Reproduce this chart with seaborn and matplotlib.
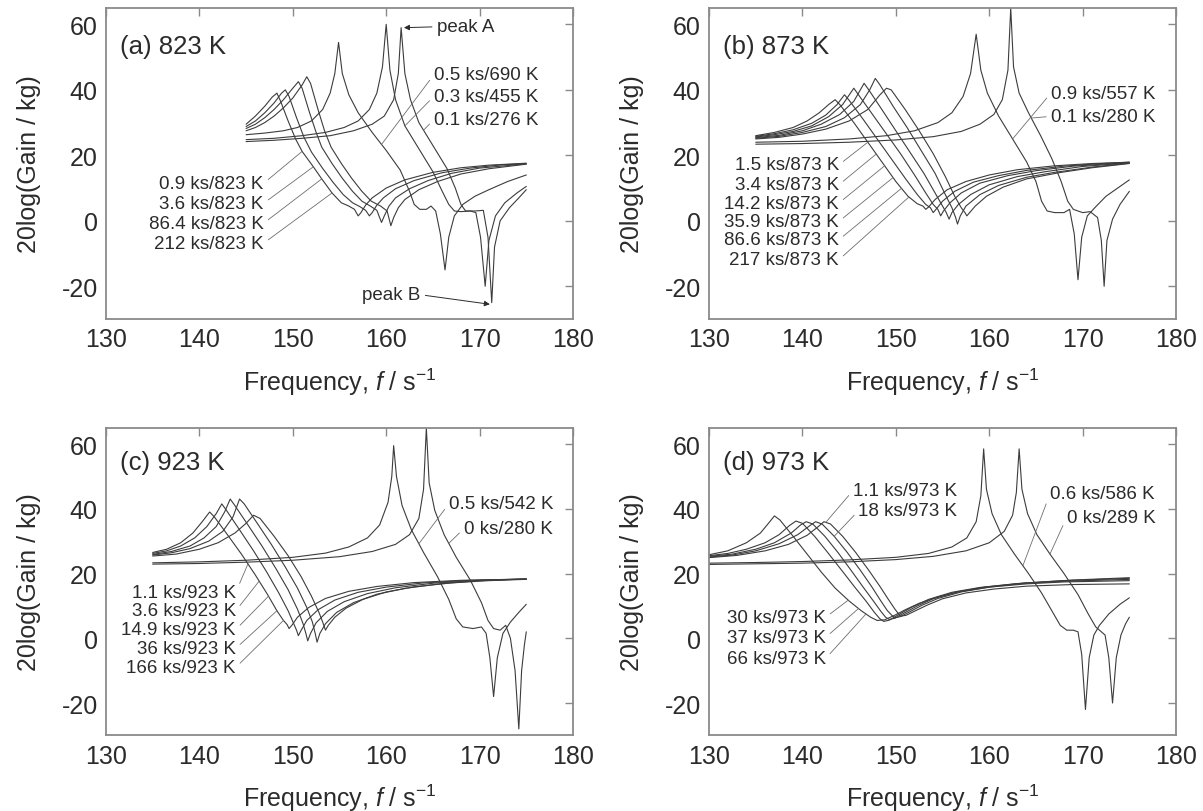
"""Gain spectra of the vibrating beam after ageing at 823, 873, 923 and 973 K."""
import numpy as np
import matplotlib
matplotlib.use("Agg")
import matplotlib.pyplot as plt
import seaborn as sns

# ---- data: (frequency f / s^-1, 20log(Gain/kg)) ----
# (a) 823 K, aged curves
A_09KS = [(145, 29.5), (146, 32), (147, 35), (147.8, 37.8), (148.3, 39), (148.7, 36.5), (149.5, 30.5),
          (150.3, 25), (151, 21.2), (152.2, 16.5), (153.1, 12.8), (154.2, 8.5), (155.2, 5.5), (156, 4.5),
          (156.6, 3.5), (157.0, 1.5), (157.3, 2.5), (157.8, 4.8), (158.5, 7), (160, 10), (162, 12.5),
          (165, 14.8), (168, 16.2), (171, 17), (175, 17.6)]
A_36KS = [(145, 28.8), (146, 30.5), (147, 33), (148, 36), (148.8, 39), (149.2, 40), (149.6, 38),
          (150.4, 31.5), (151.2, 25.5), (152, 21), (153.2, 16), (154.3, 11.8), (155.4, 8), (156.4, 5.5),
          (157.2, 4.3), (157.8, 3.2), (158.2, 1.5), (158.5, 2.5), (159, 4.8), (159.7, 7), (161, 9.8),
          (163, 12.3), (166, 14.7), (169, 16.1), (172, 17), (175, 17.5)]
A_864KS = [(145, 28.2), (146, 29.5), (147, 31.5), (148, 34), (149, 37), (150, 40.5), (150.6, 42.5),
           (151, 40.5), (151.8, 33), (152.5, 27), (153.1, 22.5), (154.2, 17.5), (155.3, 13), (156.4, 9),
           (157.4, 6), (158.3, 4.5), (159, 3.2), (159.5, -0.5), (159.8, 1.5), (160.3, 4.5), (161, 7),
           (162.5, 9.8), (164.5, 12.3), (167, 14.5), (170, 16.1), (175, 17.4)]
A_212KS = [(145, 27.5), (146, 28.5), (147, 30), (148, 32), (149, 34.5), (150, 37.5), (151, 41.5),
           (151.5, 44), (151.9, 42), (152.7, 34), (153.4, 27.5), (154.1, 22.5), (155.2, 17.5), (156.3, 13),
           (157.4, 9), (158.4, 6), (159.4, 4.5), (160.1, 3), (160.5, -1.5), (160.8, 1), (161.3, 4),
           (162, 6.5), (163.5, 9.5), (165.5, 12), (168, 14.3), (171, 15.9), (175, 17.3)]
# (a) 823 K, short heat treatments
A_05KS = [(145, 26.3), (147, 26.8), (149, 27.5), (150.5, 28.5), (152, 30.5), (153.2, 34), (154, 39),
          (154.5, 45), (154.9, 54.5), (155.3, 45), (156, 38.5), (157, 33), (158.5, 27), (160, 21.5),
          (161.5, 15.5), (162.5, 9), (163, 5), (163.6, 3.5), (164.3, 3.5), (164.8, 4.5), (165.3, 3),
          (165.8, -4), (166.3, -15), (166.7, -5), (167.3, 1.5), (168.2, 5), (169.5, 7.5), (171, 9.5),
          (173, 12), (175, 14)]
A_03KS = [(145, 24.8), (148, 25.2), (151, 26), (153.5, 27), (155.5, 28.5), (157, 30.5), (158.2, 34),
          (159, 39), (159.6, 47), (160.0, 60), (160.4, 46), (161, 37), (162, 29), (163.5, 22), (165, 15),
          (166, 9), (166.7, 5), (167.3, 3), (168, 2.8), (169, 3), (169.6, 2.5), (170.1, -5), (170.6, -20),
          (171, -6), (171.7, 1.5), (172.7, 5.5), (174, 8.5), (175, 10.5)]
A_01KS = [(145, 24.2), (148, 24.6), (151, 25.2), (154, 26), (156.5, 27.5), (158.5, 29.5), (159.8, 32),
          (160.8, 37), (161.3, 45), (161.6, 59), (162, 45), (162.6, 37), (163.5, 30), (165, 23),
          (166.5, 16), (167.4, 10), (168, 5), (168.5, 3), (169.5, 3), (170.4, 3.2), (170.9, -5),
          (171.3, -25), (171.6, -8), (172.2, 0), (173.2, 4), (174.2, 7), (175, 9.5)]

# (b) 873 K
B_15KS = [(135, 26), (137, 27), (139, 28.5), (140.5, 30.5), (141.8, 33), (142.8, 35.5), (143.5, 37),
          (144, 35.5), (145.5, 30), (147, 24), (148.5, 18), (150, 12), (151.3, 7.5), (152.3, 5.2),
          (152.9, 4.5), (153.2, 3.5), (153.5, 4.2), (154.2, 6.5), (155.5, 9.5), (157.5, 12), (160, 14),
          (163, 15.6), (167, 16.8), (171, 17.5), (175, 17.9)]
B_34KS = [(135, 25.8), (137, 26.6), (139, 27.8), (141, 29.8), (142.5, 32.3), (143.7, 35.5), (144.5, 38.5),
          (145, 36.8), (146.5, 31), (148, 25), (149.5, 19), (151, 13), (152.3, 8), (153.2, 5), (153.7, 4),
          (154.0, 2.5), (154.3, 3.5), (155, 6), (156.3, 9), (158.3, 11.8), (161, 13.8), (164, 15.4),
          (168, 16.7), (171.5, 17.4), (175, 17.9)]
B_142KS = [(135, 25.6), (137, 26.3), (139, 27.3), (141, 29), (142.8, 31.8), (144.3, 35.5), (145.5, 40.5),
           (146, 38.5), (147.5, 32.5), (149, 26.5), (150.5, 20.5), (152, 14), (153.2, 8.5), (154, 5),
           (154.5, 3.5), (154.8, 1.5), (155.1, 3), (155.8, 5.5), (157, 8.5), (159, 11.5), (162, 13.8),
           (165, 15.3), (169, 16.7), (175, 17.8)]
B_359KS = [(135, 25.4), (137.5, 26.1), (140, 27.5), (142, 29.5), (144, 32.5), (145.5, 36.5), (146.6, 42),
           (147.1, 40), (148.5, 34), (150, 27.5), (151.5, 21), (153, 14.5), (154.2, 8.5), (155, 4.5),
           (155.4, 2.5), (155.7, 0.5), (156, 2.5), (156.7, 5), (158, 8), (160, 11), (163, 13.5),
           (166, 15), (170, 16.6), (175, 17.7)]
B_866KS = [(135, 25.2), (137.5, 25.8), (140, 27), (142.5, 28.8), (144.5, 31.5), (146.2, 35.5), (147.2, 40),
           (147.8, 43.5), (148.3, 41.5), (149.7, 35), (151.2, 28.5), (152.7, 21.5), (154.2, 14.5),
           (155.3, 8), (156, 4), (156.4, 1), (156.6, -1), (156.9, 1.5), (157.5, 4.5), (159, 8),
           (161, 10.8), (164, 13.3), (167, 14.8), (171, 16.4), (175, 17.6)]
B_217KS = [(135, 25), (137.5, 25.5), (140, 26.5), (142.5, 28), (145, 30.5), (147, 34), (148.3, 38.5),
           (149.0, 40.5), (149.5, 40), (151, 34), (152.5, 27.5), (154, 20.5), (155.3, 13.5), (156.3, 7.5),
           (157, 4), (157.4, 2.5), (157.6, 1.5), (157.9, 2.5), (158.5, 4.5), (159.7, 7.5), (161.5, 10.3),
           (164, 12.8), (167.5, 14.7), (171, 16.2), (175, 17.5)]
B_09KS = [(135, 24), (140, 24.3), (145, 25), (149, 26), (152, 27.5), (154.5, 30), (156, 33), (157.2, 38),
          (158, 45), (158.6, 57), (159.1, 46), (159.8, 39), (161, 32), (162.5, 25), (164, 18), (165, 12),
          (165.6, 6), (166.2, 3), (167, 2.5), (168, 2.5), (168.6, 3.5), (169.1, -4), (169.5, -18),
          (169.9, -5), (170.5, 1.5), (171.3, 4), (172.5, 7.5), (174, 10.5), (175, 12.5)]
B_01KS = [(135, 23.4), (140, 23.6), (145, 24), (150, 24.7), (154, 25.7), (157, 27.3), (159, 29.5),
          (160.5, 32.5), (161.4, 37), (162, 46), (162.3, 65), (162.6, 47), (163.2, 39), (164.2, 33),
          (165.5, 26), (166.7, 19), (167.7, 12), (168.4, 6), (169, 3.5), (170, 2.5), (170.8, 2.8),
          (171.6, 1), (172, -6), (172.3, -20), (172.6, -6), (173.2, 0.5), (174, 5), (175, 9)]

# (c) 923 K
C_11KS = [(135, 26.5), (136.5, 27.5), (138, 29.5), (139.3, 32.5), (140.3, 36), (141.1, 39), (141.6, 37.5),
          (143, 32), (144.5, 26), (146, 19.5), (147.3, 13.5), (148.3, 8.5), (149, 5.5), (149.4, 4.2),
          (149.6, 3), (149.9, 4), (150.5, 6.5), (151.7, 9.5), (153.5, 12.3), (156, 14.5), (159, 16),
          (163, 17.2), (168, 17.9), (175, 18.3)]
C_36KS = [(135, 26.2), (136.5, 27), (138, 28.5), (139.5, 31), (140.8, 34.5), (141.8, 38.5), (142.4, 41.5),
          (142.9, 39.5), (144.3, 33.5), (145.8, 27), (147.2, 20.5), (148.5, 14), (149.5, 8.5), (150.1, 4.5),
          (150.4, 2.5), (150.6, 0.8), (150.9, 2.5), (151.5, 5.5), (152.7, 8.8), (154.5, 11.8), (157, 14.2),
          (160, 15.8), (164, 17.1), (169, 17.9), (175, 18.3)]
C_149KS = [(135, 25.9), (137, 26.8), (139, 28.5), (140.5, 31), (141.8, 34.5), (142.7, 39), (143.3, 43),
           (143.8, 41), (145.2, 35), (146.7, 28.5), (148.2, 21.5), (149.5, 15), (150.5, 9), (151.1, 4.5),
           (151.4, 1.5), (151.6, -0.8), (151.9, 1.5), (152.5, 4.8), (153.7, 8.3), (155.5, 11.3), (158, 13.8),
           (161, 15.6), (165, 17), (170, 17.9), (175, 18.3)]
C_36KS_B = [(135, 25.7), (137, 26.4), (139, 27.7), (141, 30), (142.5, 33), (143.6, 37.5), (144.3, 43),
            (144.8, 41.5), (146.2, 35.5), (147.7, 29), (149.2, 22), (150.5, 15.5), (151.5, 9.5), (152.1, 5),
            (152.4, 1.5), (152.6, -1.2), (152.9, 1.5), (153.5, 4.5), (154.7, 8), (156.5, 11), (159, 13.6),
            (162, 15.4), (166, 16.9), (170, 17.8), (175, 18.3)]
C_166KS = [(135, 25.4), (137.5, 26), (140, 27.5), (142, 29.5), (143.8, 32.5), (145.0, 35.5), (145.8, 38),
           (146.5, 37), (148, 31.5), (149.5, 25.5), (150.9, 19), (152, 13), (152.8, 8), (153.2, 5),
           (153.5, 2.5), (153.8, 4), (154.5, 6.5), (155.7, 9.3), (157.5, 12), (160, 14.3), (163, 15.9),
           (167, 17.1), (171, 17.8), (175, 18.2)]
C_05KS = [(135, 23.3), (140, 23.6), (145, 24.1), (150, 25), (153.5, 26.3), (156, 28.2), (158, 31),
          (159.3, 35), (160.2, 42), (160.6, 50), (160.8, 59.5), (161.1, 50), (161.7, 41), (162.7, 33.5),
          (164, 26.5), (165.5, 19), (166.7, 12), (167.5, 6), (168.2, 3.5), (169.3, 3), (170.2, 3.5),
          (170.7, 1.5), (171.1, -6), (171.5, -18), (171.9, -6), (172.5, 1.5), (173.3, 5), (174.2, 8),
          (175, 10.5)]
C_00KS = [(135, 22.9), (140, 23.1), (145, 23.5), (150, 24.1), (155, 25.2), (158.5, 26.8), (161, 29),
          (162.5, 32), (163.5, 37), (164, 46), (164.3, 65), (164.6, 48), (165.2, 39.5), (166.2, 32),
          (167.5, 25), (169, 18), (170.2, 11), (170.9, 5.5), (171.5, 3), (172.2, 2.5), (172.8, 4),
          (173.3, 0), (173.8, -10), (174.2, -28), (174.5, -10), (174.8, -2), (175, 2)]

# (d) 973 K
D_11KS = [(130, 25.8), (132, 27), (134, 29.5), (135.5, 32.5), (136.5, 36), (137, 37.8), (137.6, 36.5),
          (139, 31.5), (140.5, 26), (142, 20.5), (143.5, 15.5), (145, 11.5), (146.3, 8.5), (147.3, 6.5),
          (148, 5.5), (148.8, 5.7), (149.8, 7), (151, 8.8), (152.5, 10.8), (154.5, 12.8), (157, 14.5),
          (160, 15.8), (164, 16.8), (168, 17.4), (175, 17.8)]
D_18KS = [(130, 25.5), (132, 26.2), (134, 27.5), (136, 29.5), (137.5, 32), (138.6, 34.8), (139.3, 36.2),
          (140, 35.5), (141.3, 31.5), (142.7, 26.5), (144.2, 21), (145.6, 15.8), (146.8, 11.5), (147.7, 8),
          (148.3, 6), (148.7, 5.2), (149.3, 5.6), (150.3, 7.3), (151.7, 9.6), (153.5, 12), (156, 14.2),
          (159, 15.7), (163, 16.9), (168, 17.6), (175, 18.2)]
D_30KS = [(130, 25.3), (132.5, 26), (135, 27.5), (137, 29.5), (138.8, 32.5), (139.8, 35), (140.4, 36),
          (141.1, 35.3), (142.4, 31.5), (143.8, 26.5), (145.2, 21), (146.5, 15.8), (147.6, 11.5), (148.4, 8.3),
          (148.9, 6.5), (149.3, 5.8), (149.9, 6.2), (150.9, 7.8), (152.3, 10), (154, 12.2), (156.5, 14.3),
          (159.5, 15.8), (163.5, 17), (168, 17.8), (175, 18.5)]
D_37KS = [(130, 25.1), (132.5, 25.7), (135, 27), (137.5, 29.2), (139.5, 32), (140.8, 34.8), (141.4, 36),
          (142.1, 35.3), (143.4, 31.5), (144.8, 26.5), (146.2, 21), (147.4, 16), (148.4, 11.5), (149.1, 8.5),
          (149.6, 7), (149.9, 6.3), (150.5, 6.7), (151.5, 8.2), (152.8, 10.2), (154.5, 12.3), (157, 14.3),
          (160, 15.8), (164, 17.1), (169, 18), (175, 18.7)]
D_66KS = [(130, 24.9), (133, 25.6), (136, 27), (138.5, 29), (140.5, 31.8), (141.7, 34.5), (142.3, 36),
          (143, 35.3), (144.3, 31.5), (145.7, 26.5), (147.1, 21), (148.3, 16), (149.2, 12), (149.9, 9),
          (150.3, 7.5), (150.5, 6.8), (151.1, 7.1), (152.1, 8.5), (153.4, 10.3), (155, 12.2), (157.5, 14),
          (160.5, 15.2), (164, 16.1), (169, 16.6), (175, 16.8)]
D_06KS = [(130, 23.2), (135, 23.4), (140, 23.7), (145, 24.2), (150, 25), (153.5, 26.2), (156, 28.2),
          (157.6, 31), (158.6, 36), (159.1, 44), (159.4, 58.5), (159.7, 46), (160.3, 38.5), (161.3, 32),
          (162.7, 26), (164.2, 20), (165.6, 14), (166.8, 8), (167.6, 4), (168.3, 2.5), (169, 2.5),
          (169.5, 2), (169.9, -5), (170.3, -22), (170.7, -6), (171.2, 1), (171.8, 4), (172.8, 7.5),
          (174, 10.5), (175, 12.5)]
D_00KS = [(130, 22.8), (135, 23), (140, 23.2), (145, 23.6), (150, 24.3), (154, 25.3), (157.5, 27),
          (160, 29.5), (161.6, 33), (162.5, 38), (162.9, 45), (163.2, 58.5), (163.5, 46), (164.1, 38.5),
          (165.1, 32), (166.5, 26), (168, 20), (169.5, 13.5), (170.6, 7.5), (171.4, 3.5), (172, 2),
          (172.4, 1), (172.8, -6), (173.2, -20), (173.6, -6), (174.1, 1), (174.6, 4.5), (175, 6.5)]

# ---- label texts ----
A_TITLE, B_TITLE, C_TITLE, D_TITLE = "(a) 823 K", "(b) 873 K", "(c) 923 K", "(d) 973 K"
A_AGED_TEXT = ["0.9 ks/823 K", "3.6 ks/823 K", "86.4 ks/823 K", "212 ks/823 K"]
A_FRESH_TEXT = ["0.5 ks/690 K", "0.3 ks/455 K", "0.1 ks/276 K"]
B_AGED_TEXT = ["1.5 ks/873 K", "3.4 ks/873 K", "14.2 ks/873 K", "35.9 ks/873 K", "86.6 ks/873 K", "217 ks/873 K"]
B_FRESH_TEXT = ["0.9 ks/557 K", "0.1 ks/280 K"]
C_AGED_TEXT = ["1.1 ks/923 K", "3.6 ks/923 K", "14.9 ks/923 K", "36 ks/923 K", "166 ks/923 K"]
C_FRESH_TEXT = ["0.5 ks/542 K", "0 ks/280 K"]
D_UPPER_TEXT = ["1.1 ks/973 K", "18 ks/973 K"]
D_LOWER_TEXT = ["30 ks/973 K", "37 ks/973 K", "66 ks/973 K"]
D_FRESH_TEXT = ["0.6 ks/586 K", "0 ks/289 K"]

INK = "#2b2b2b"
LINE = "#3c3c3c"
LEADER = "#6e6e6e"
FRAME = "#8a8a8a"
NOTE_SIZE = 13.5


def draw_curves(ax, curves):
    for pts in curves:
        f, g = np.array(pts).T
        sns.lineplot(x=f, y=g, ax=ax, color=LINE, lw=0.8, estimator=None, sort=False, legend=False)


def leader(ax, text, xytext, curve, f_at, ha):
    f, g = np.array(curve).T
    ax.annotate(text, xy=(f_at, np.interp(f_at, f, g)), xytext=xytext, ha=ha, va="center",
                fontsize=NOTE_SIZE, color=INK,
                arrowprops=dict(arrowstyle="-", color=LEADER, lw=0.6, shrinkA=1, shrinkB=0,
                                relpos=(1, 0.5) if ha == "right" else (0, 0.5)))


def style_axes(ax, title, title_y):
    ax.set_xlim(130, 180)
    ax.set_ylim(-30, 65)
    ax.set_xticks(range(130, 181, 10))
    ax.set_yticks([-20, 0, 20, 40, 60])
    ax.tick_params(direction="in", top=True, right=True, length=6, width=1, color=FRAME,
                   labelsize=18, labelcolor=INK, pad=6)
    for s in ax.spines.values():
        s.set_color(FRAME)
        s.set_linewidth(1.3)
    ax.set_xlabel("Frequency, $\\mathit{f}$ / s$^{\\mathregular{-1}}$", fontsize=18, color=INK, labelpad=10)
    ax.set_ylabel("20log(Gain / kg)", fontsize=18, color=INK, labelpad=15)
    ax.text(131.5, title_y, title, fontsize=18.5, color=INK, va="center", ha="left")


def main():
    sns.set_theme(style="white")
    plt.rcParams["font.family"] = ["Liberation Sans", "DejaVu Sans"]
    plt.rcParams["mathtext.fontset"] = "custom"
    plt.rcParams["mathtext.rm"] = "Liberation Sans"
    plt.rcParams["mathtext.it"] = "Liberation Sans:italic"
    plt.rcParams["axes.unicode_minus"] = False

    fig = plt.figure(figsize=(12.03, 8.12), dpi=100)
    ax_a = fig.add_axes([0.0881, 0.6059, 0.3882, 0.3830])
    ax_b = fig.add_axes([0.5894, 0.6059, 0.3882, 0.3830])
    ax_c = fig.add_axes([0.0881, 0.0931, 0.3882, 0.3788])
    ax_d = fig.add_axes([0.5894, 0.0931, 0.3882, 0.3788])

    # (a)
    aged = [A_09KS, A_36KS, A_864KS, A_212KS]
    fresh = [A_05KS, A_03KS, A_01KS]
    draw_curves(ax_a, aged + fresh)
    for text, y, f_at in zip(A_AGED_TEXT, [11.5, 5.4, -0.7, -6.8], [151.0, 152.2, 153.1, 154.2]):
        leader(ax_a, text, (146.9, y), A_09KS, f_at, "right")
    for text, y, curve, f_at in zip(A_FRESH_TEXT, [44.6, 38.0, 30.9], fresh, [159.5, 162.0, 164.0]):
        leader(ax_a, text, (165.1, y), curve, f_at, "left")
    ax_a.annotate("peak A", xy=(161.9, 59), xytext=(165.4, 59.5), ha="left", va="center", fontsize=NOTE_SIZE,
                  color=INK, arrowprops=dict(arrowstyle="-|>", color=INK, lw=0.7, mutation_scale=8,
                                             shrinkA=1, shrinkB=0))
    ax_a.annotate("peak B", xy=(171.1, -25.5), xytext=(163.7, -22.6), ha="right", va="center",
                  fontsize=NOTE_SIZE, color=INK,
                  arrowprops=dict(arrowstyle="-|>", color=INK, lw=0.7, mutation_scale=8,
                                  shrinkA=1, shrinkB=0, relpos=(1, 0.5)))
    style_axes(ax_a, A_TITLE, 53.5)

    # (b)
    aged = [B_15KS, B_34KS, B_142KS, B_359KS, B_866KS, B_217KS]
    fresh = [B_09KS, B_01KS]
    draw_curves(ax_b, aged + fresh)
    for text, y, f_at in zip(B_AGED_TEXT, [17.1, 11.0, 5.4, -0.2, -5.8, -11.9],
                             [147.0, 147.9, 148.8, 149.7, 150.6, 151.4]):
        leader(ax_b, text, (143.9, y), B_15KS, f_at, "right")
    for text, y, curve, f_at in zip(B_FRESH_TEXT, [39.0, 31.9], fresh, [162.5, 164.5]):
        leader(ax_b, text, (166.6, y), curve, f_at, "left")
    style_axes(ax_b, B_TITLE, 53.3)

    # (c)
    aged = [C_11KS, C_36KS, C_149KS, C_36KS_B, C_166KS]
    fresh = [C_05KS, C_00KS]
    draw_curves(ax_c, aged + fresh)
    for text, y, f_at in zip(C_AGED_TEXT, [14.2, 8.5, 2.7, -3.1, -9.0], [145.2, 146.4, 147.4, 148.3, 149.0]):
        leader(ax_c, text, (143.9, y), C_11KS, f_at, "right")
    for text, xy, curve, f_at in zip(C_FRESH_TEXT, [(166.7, 41.5), (168.3, 33.8)], fresh, [163.5, 166.7]):
        leader(ax_c, text, xy, curve, f_at, "left")
    style_axes(ax_c, C_TITLE, 54.4)

    # (d)
    aged = [D_11KS, D_18KS, D_30KS, D_37KS, D_66KS]
    fresh = [D_06KS, D_00KS]
    draw_curves(ax_d, aged + fresh)
    for text, xy, curve, f_at in zip(D_UPPER_TEXT, [(145.4, 45.6), (146.0, 39.4)], [D_66KS, D_37KS],
                                     [142.5, 143.4]):
        leader(ax_d, text, xy, curve, f_at, "left")
    for text, y, f_at in zip(D_LOWER_TEXT, [6.5, 0.3, -6.2], [144.9, 146.0, 146.8]):
        leader(ax_d, text, (142.5, y), D_11KS, f_at, "right")
    for text, xy, curve, f_at in zip(D_FRESH_TEXT, [(166.5, 44.6), (168.3, 37.4)], fresh, [163.6, 166.5]):
        leader(ax_d, text, xy, curve, f_at, "left")
    style_axes(ax_d, D_TITLE, 54.4)

    fig.savefig("out.png", dpi=100, facecolor="white")
    plt.close(fig)


if __name__ == "__main__":
    main()
